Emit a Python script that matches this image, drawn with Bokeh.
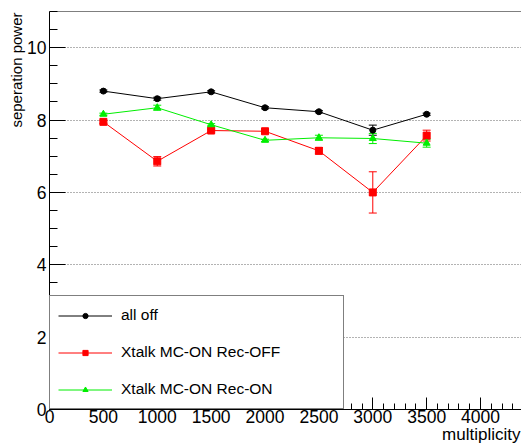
import numpy as np
from bokeh.plotting import figure
from bokeh.models import (ColumnDataSource, Whisker, TeeHead, Legend, LegendItem, Title, Span,
                          SingleIntervalTicker, Range1d)
from bokeh.embed import file_html
from bokeh.resources import INLINE

# ---- data ----
multiplicity = [500, 1000, 1500, 2000, 2500, 3000, 3500]
all_off = [8.80, 8.59, 8.78, 8.34, 8.23, 7.72, 8.16]
all_off_err = [0.03, 0.04, 0.03, 0.03, 0.03, 0.14, 0.03]
rec_off = [7.95, 6.86, 7.71, 7.69, 7.15, 6.00, 7.57]
rec_off_err = [0.04, 0.13, 0.04, 0.04, 0.09, 0.57, 0.15]
rec_on = [8.16, 8.34, 7.87, 7.44, 7.51, 7.49, 7.36]
rec_on_err = [0.03, 0.07, 0.03, 0.03, 0.07, 0.14, 0.11]
labels = ["all off", "Xtalk MC-ON Rec-OFF", "Xtalk MC-ON Rec-ON"]
x_title = "multiplicity"
y_title = "seperation power"

FONT = "Liberation Sans"

p = figure(width=521, height=444, x_range=Range1d(0, 4380), y_range=Range1d(0, 11),
           output_backend="svg", toolbar_location=None,
           min_border_left=49, min_border_right=0, min_border_top=11, min_border_bottom=35)
p.background_fill_color = "white"
p.border_fill_color = "white"
p.outline_line_color = None

xt = SingleIntervalTicker(interval=500, num_minor_ticks=5)
yt = SingleIntervalTicker(interval=2, num_minor_ticks=4)
p.xaxis.ticker = xt
p.yaxis.ticker = yt
p.xgrid.visible = False
p.ygrid.ticker = yt
p.ygrid.grid_line_color = "#666666"
p.ygrid.grid_line_dash = "1 2"
p.ygrid.grid_line_width = 1

for ax in (p.xaxis, p.yaxis):
    ax.axis_line_color = "black"
    ax.major_tick_line_color = "black"
    ax.minor_tick_line_color = "black"
    ax.major_tick_out = 0
    ax.minor_tick_out = 0
    ax.major_label_text_font = FONT
    ax.major_label_text_font_size = "17.5px"
    ax.major_label_text_color = "black"
p.xaxis.major_tick_in = 12
p.xaxis.minor_tick_in = 6
p.yaxis.major_tick_in = 16
p.yaxis.minor_tick_in = 8
p.xaxis.major_label_standoff = 0
p.yaxis.major_label_standoff = 3

p.add_layout(Span(location=11, dimension="width", line_color="black", line_width=1))

series = [
    (all_off, all_off_err, "black", "circle", 6),
    (rec_off, rec_off_err, "#ff0000", "square", 7),
    (rec_on, rec_on_err, "#00ee00", "triangle", 7),
]
items = []
for (vals, errs, col, mk, sz), lab in zip(series, labels):
    v = np.array(vals); e = np.array(errs)
    src = ColumnDataSource(dict(x=multiplicity, y=vals, upper=list(v + e), lower=list(v - e)))
    w = Whisker(base="x", upper="upper", lower="lower", source=src, line_color=col, line_width=1,
                upper_head=TeeHead(size=8, line_color=col, line_width=1),
                lower_head=TeeHead(size=8, line_color=col, line_width=1))
    p.add_layout(w)
    ln = p.line("x", "y", source=src, line_color=col, line_width=1)
    sc = p.scatter("x", "y", source=src, marker=mk, size=sz, fill_color=col, line_color=col)
    items.append(LegendItem(label=lab, renderers=[ln, sc]))

legend = Legend(items=items, location=(0, 0), margin=0, padding=8, spacing=15,
                glyph_width=54, glyph_height=13, label_height=22, label_width=214,
                label_standoff=9, border_line_color="black", border_line_width=1,
                background_fill_color="white", background_fill_alpha=1.0,
                label_text_font=FONT, label_text_font_size="15.5px", label_text_color="black")
p.add_layout(legend)

p.add_layout(Title(text=x_title, align="right", offset=1, standoff=-6,
                   text_font=FONT, text_font_size="17px", text_font_style="normal",
                   text_color="black"), "below")
p.add_layout(Title(text=y_title, align="right", offset=1, standoff=0,
                   text_font=FONT, text_font_size="15px", text_font_style="normal",
                   text_color="black"), "left")

open("out.html", "w").write(file_html(p, INLINE))
